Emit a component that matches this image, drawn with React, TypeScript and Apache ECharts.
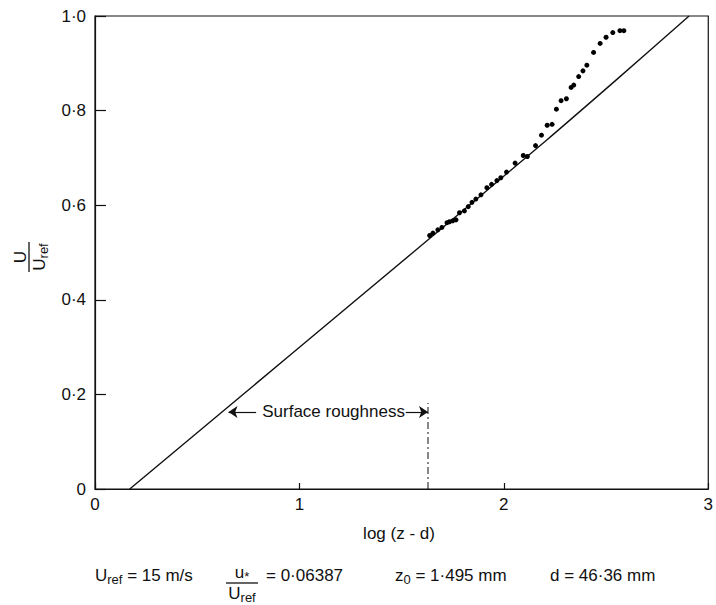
import React, { useEffect, useRef } from 'react';
import * as echarts from 'echarts';

// Tick labels
const xTickLabels = ['0', '1', '2', '3'];
const yTickLabels = ['0', '0·2', '0·4', '0·6', '0·8', '1·0'];

// Measured points: x = log(z - d), y = U / Uref
const measuredX = [
  1.637, 1.653, 1.677, 1.697, 1.722, 1.734, 1.750, 1.766, 1.783, 1.807,
  1.826, 1.844, 1.863, 1.888, 1.917, 1.940, 1.966, 1.985, 2.013, 2.055,
  2.095, 2.115, 2.155, 2.184, 2.212, 2.236, 2.257, 2.280, 2.306, 2.329,
  2.342, 2.366, 2.387, 2.406, 2.439, 2.471, 2.500, 2.533, 2.568, 2.587,
];
const measuredY = [
  0.536, 0.541, 0.548, 0.553, 0.563, 0.565, 0.567, 0.569, 0.584, 0.588,
  0.597, 0.606, 0.613, 0.622, 0.637, 0.644, 0.652, 0.658, 0.670, 0.689,
  0.705, 0.703, 0.726, 0.748, 0.769, 0.771, 0.803, 0.821, 0.825, 0.849,
  0.854, 0.872, 0.884, 0.896, 0.923, 0.942, 0.955, 0.965, 0.969, 0.969,
];

// Log-law line
const lawX = [0.17, 1.58, 2.21, 2.55, 2.906];
const lawY = [0, 0.509, 0.738, 0.865, 1.0];

// Surface roughness annotation (data coordinates)
const roughnessX = 1.629;
const roughnessTop = 0.182;
const arrowY = 0.163;
const leftArrowX = [0.788, 0.653];
const rightArrowX = [1.52, 1.629];
const roughnessLabelX = 1.167;
const roughnessLabel = 'Surface roughness';

const FONT = '"Liberation Sans", Arial, Helvetica, sans-serif';
const INK = '#111111';

export default function App() {
  const ref = useRef<HTMLDivElement>(null);

  useEffect(() => {
    if (!ref.current) return;
    const chart = echarts.init(ref.current, undefined, { renderer: 'svg' });

    const sub = { fontSize: 13, lineHeight: 12, verticalAlign: 'bottom', fontFamily: FONT, fill: INK };
    const mainText = (text: string, x: number, y: number, align = 'left') => ({
      type: 'text',
      x,
      y,
      style: {
        text,
        fontSize: 17,
        lineHeight: 22,
        fontFamily: FONT,
        fill: INK,
        align,
        verticalAlign: 'middle',
        rich: { sub },
      },
    });

    chart.setOption({
      animation: false,
      backgroundColor: '#ffffff',
      grid: {
        left: 95,
        top: 16,
        right: 4,
        bottom: 116,
        show: true,
        borderColor: INK,
        borderWidth: 1.2,
      },
      xAxis: {
        type: 'value',
        min: 0,
        max: 3,
        interval: 1,
        splitLine: { show: false },
        axisLine: { show: true, onZero: false, lineStyle: { color: INK, width: 1.2 } },
        axisTick: { show: true, inside: true, length: 6, lineStyle: { color: INK, width: 1.2 } },
        axisLabel: {
          color: INK,
          fontSize: 17,
          fontFamily: FONT,
          margin: 7,
          formatter: (v: number) => xTickLabels[Math.round(v)] ?? '',
        },
      },
      yAxis: {
        type: 'value',
        min: 0,
        max: 1,
        interval: 0.2,
        splitLine: { show: false },
        axisLine: { show: true, onZero: false, lineStyle: { color: INK, width: 1.2 } },
        axisTick: { show: true, inside: true, length: 11, lineStyle: { color: INK, width: 1.2 } },
        axisLabel: {
          color: INK,
          fontSize: 17,
          fontFamily: FONT,
          margin: 9,
          formatter: (v: number) => yTickLabels[Math.round(v / 0.2)] ?? '',
        },
      },
      series: [
        {
          type: 'line',
          data: lawX.map((x, i) => [x, lawY[i]]),
          showSymbol: false,
          smooth: 0.3,
          lineStyle: { color: INK, width: 1.4 },
          clip: true,
          z: 2,
        },
        {
          type: 'scatter',
          data: measuredX.map((x, i) => [x, measuredY[i]]),
          symbol: 'circle',
          symbolSize: 5,
          itemStyle: { color: '#000', opacity: 1 },
          z: 3,
        },
        {
          type: 'line',
          data: [
            [roughnessX, 0],
            [roughnessX, roughnessTop],
          ],
          showSymbol: false,
          lineStyle: { color: INK, width: 1, type: [7, 3, 2, 3] },
          z: 2,
        },
        {
          type: 'scatter',
          data: [[roughnessLabelX, arrowY]],
          symbolSize: 0,
          silent: true,
          itemStyle: { color: INK, opacity: 1 },
          label: {
            show: true,
            position: 'inside',
            formatter: roughnessLabel,
            color: INK,
            opacity: 1,
            textBorderWidth: 0,
            fontSize: 17,
            fontFamily: FONT,
          },
        },
        {
          type: 'line',
          data: [],
          markLine: {
            silent: true,
            symbol: ['none', 'arrow'],
            symbolSize: 9,
            label: { show: false },
            lineStyle: { color: INK, width: 1.2, type: 'solid' },
            itemStyle: { color: INK },
            data: [
              [{ coord: [leftArrowX[0], arrowY] }, { coord: [leftArrowX[1], arrowY] }],
              [{ coord: [rightArrowX[0], arrowY] }, { coord: [rightArrowX[1], arrowY] }],
            ],
          },
        },
      ],
      graphic: [
        // y-axis name: U / Uref (rotated)
        {
          type: 'group',
          x: 29,
          y: 257,
          rotation: Math.PI / 2,
          children: [
            { type: 'text', x: 0, y: -9, style: { text: 'U', fontSize: 17, fontFamily: FONT, fill: INK, align: 'center', verticalAlign: 'middle' } },
            { type: 'line', shape: { x1: -15, y1: 0, x2: 15, y2: 0 }, style: { stroke: INK, lineWidth: 1.3 } },
            { type: 'text', x: 0, y: 10, style: { text: 'U{sub|ref}', fontSize: 17, lineHeight: 22, fontFamily: FONT, fill: INK, align: 'center', verticalAlign: 'middle', rich: { sub } } },
          ],
        },
        // x-axis name
        mainText('log (z - d)', 399, 533, 'center'),
        // parameters row
        mainText('U{sub|ref} = 15 m/s', 95, 575),
        mainText('u{sub|*}', 242, 572, 'center'),
        { type: 'line', shape: { x1: 226, y1: 583, x2: 258, y2: 583 }, style: { stroke: INK, lineWidth: 1.3 } },
        mainText('U{sub|ref}', 242, 593, 'center'),
        mainText('= 0·06387', 266, 575),
        mainText('z{sub|0} = 1·495 mm', 395, 575),
        mainText('d = 46·36 mm', 550, 575),
      ],
    });

    return () => chart.dispose();
  }, []);

  return (
    <div
      ref={ref}
      style={{ position: 'fixed', left: 0, top: 0, width: 716, height: 605, background: '#fff' }}
    />
  );
}
